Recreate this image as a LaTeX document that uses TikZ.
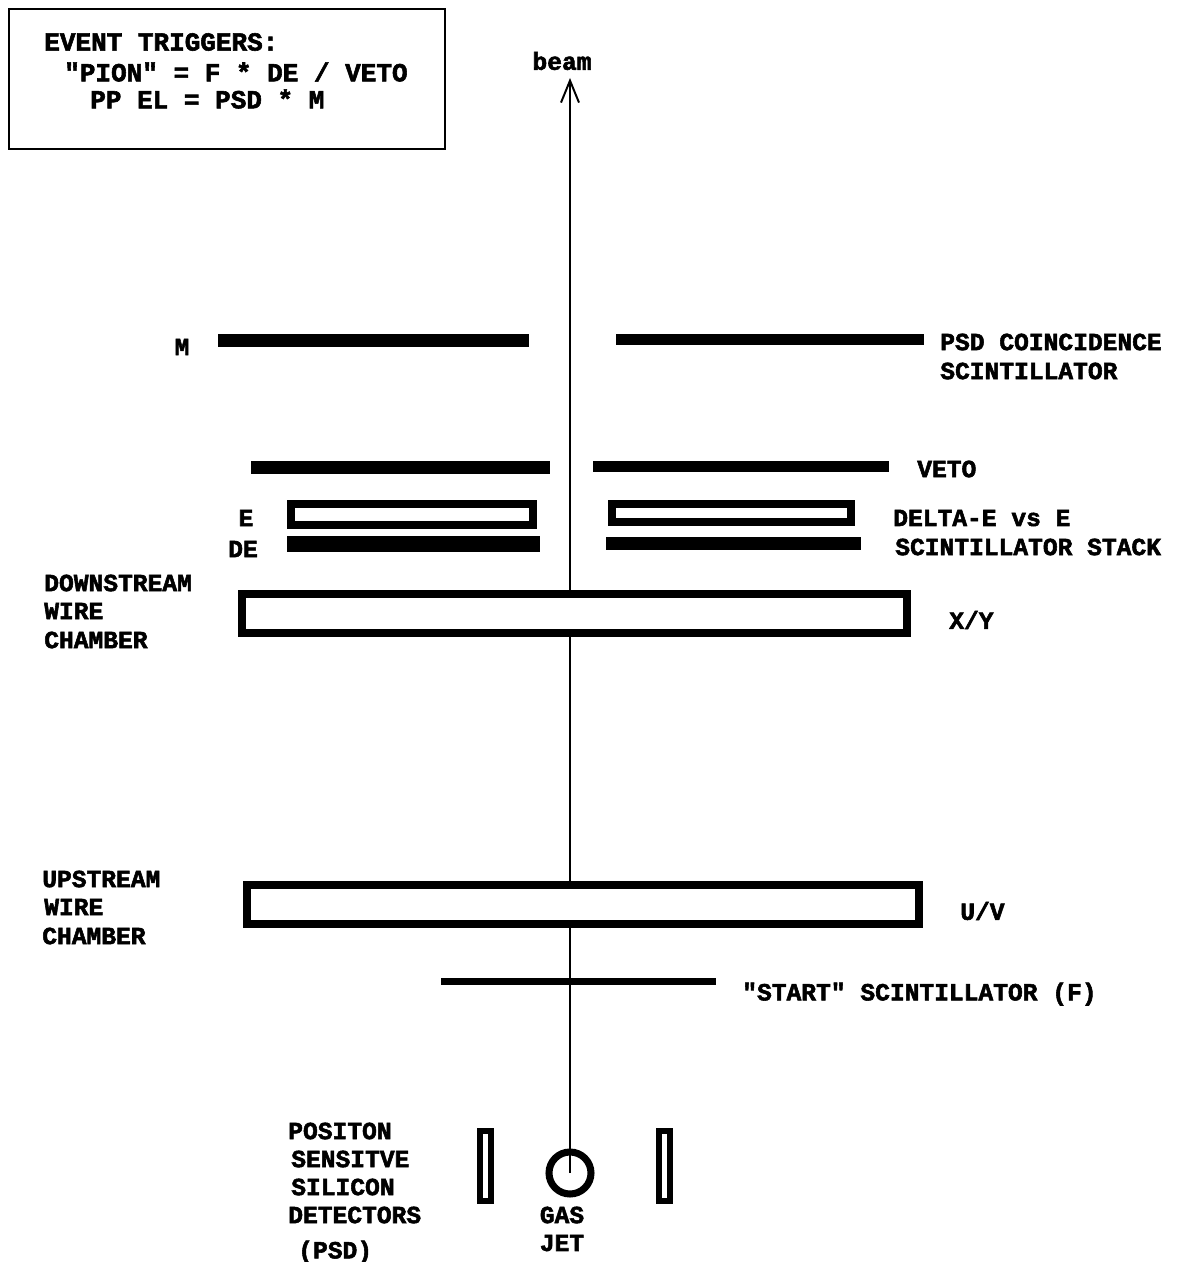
\documentclass[tikz,border=0pt]{standalone}
\usepackage{fontspec}
\setmonofont[BoldFeatures={FakeBold=2.2}]{Liberation Mono}
\usetikzlibrary{arrows.meta}
\begin{document}
\begin{tikzpicture}[x=0.25mm,y=-0.25mm,font=\fontsize{17.5pt}{19pt}\selectfont\ttfamily\bfseries,
        lbl/.style={anchor=west,inner sep=0pt,text=black},
        ctr/.style={anchor=center,inner sep=0pt,text=black},
        trg/.style={anchor=west,inner sep=0pt,text=black,font=\fontsize{18.5pt}{20pt}\selectfont\ttfamily\bfseries},
        bar/.style={fill=black,draw=none},
        det/.style={draw=black,fill=white,line width=5.4pt},
        stk/.style={draw=black,fill=white,line width=5.6pt},
        psd/.style={draw=black,fill=white,line width=4.8pt},
        jetc/.style={circle,draw=black,line width=5pt,minimum size=10.5mm,inner sep=0pt},
        bm/.style={-{Straight Barb[length=5.5mm,width=4.5mm,line width=1.4pt]},line width=1.4pt,color=black}]
        \useasboundingbox (0,0) rectangle (1177,1262);
        % beam line goes first, the chambers sit on top of it
        \node[jetc] (jet) at (570,1173) {};
        \coordinate (tip) at (570,78);
        \draw[bm] (jet.center)--(tip);
        \draw[line width=2pt] (9,9) rectangle (445,149);
        \node[trg] (trg1) at (44,42) {EVENT TRIGGERS:}; \node[trg] (trg2) at (64,72) {"PION" = F * DE / VETO}; \node[trg] (trg3) at (90,99) {PP EL = PSD * M};
        \node[ctr] (beamlab) at (562,61) {beam};
        % scintillators
        \fill[bar] (218,334) rectangle (529,347); \fill[bar] (616,334) rectangle (924,345);
        \fill[bar] (251,461) rectangle (550,474); \fill[bar] (593,461) rectangle (889,472);
        \draw[stk] (291,504) rectangle (533,525); \draw[stk] (612,504) rectangle (851,522);
        \fill[bar] (287,536) rectangle (540,552); \fill[bar] (606,537) rectangle (861,550);
        \fill[bar] (441,978) rectangle (716,985);
        % wire chambers
        \draw[det] (242,594) rectangle (907,633); \draw[det] (247,885) rectangle (919,924);
        % silicon
        \draw[psd] (480,1131) rectangle (491,1201); \draw[psd] (659,1131) rectangle (670,1201);
        \node[ctr] (mlab) at (182,347) {M};
        \node[lbl] (psdc1) at (940,342) {PSD COINCIDENCE}; \node[lbl] (psdc2) at (940,371) {SCINTILLATOR};
        \node[lbl] (veto) at (917,469) {VETO};
        \node[ctr] (elab) at (246,518) {E}; \node[ctr] (delab) at (243,549) {DE};
        \node[lbl] (stk1) at (893,518) {DELTA-E vs E}; \node[lbl] (stk2) at (895,547) {SCINTILLATOR STACK};
        \node[lbl] (dn1) at (44,583) {DOWNSTREAM}; \node[lbl] (dn2) at (44,611) {WIRE}; \node[lbl] (dn3) at (44,640) {CHAMBER};
        \node[lbl] (xy) at (949,620) {X/Y};
        \node[lbl] (up1) at (42,879) {UPSTREAM}; \node[lbl] (up2) at (44,907) {WIRE}; \node[lbl] (up3) at (42,936) {CHAMBER};
        \node[lbl] (uv) at (960,911) {U/V};
        \node[lbl] (start) at (742,994) {"START" SCINTILLATOR (F)};
        \node[lbl] (si1) at (288,1131) {POSITON}; \node[lbl] (si2) at (291,1159) {SENSITVE}; \node[lbl] (si3) at (291,1187) {SILICON}; \node[lbl] (si4) at (288,1215) {DETECTORS}; \node[lbl] (si5) at (298,1252) {(PSD)};
        \node[ctr] (gas) at (562,1215) {GAS}; \node[ctr] (jetlab) at (562,1243) {JET};
      \end{tikzpicture}
\end{document}
